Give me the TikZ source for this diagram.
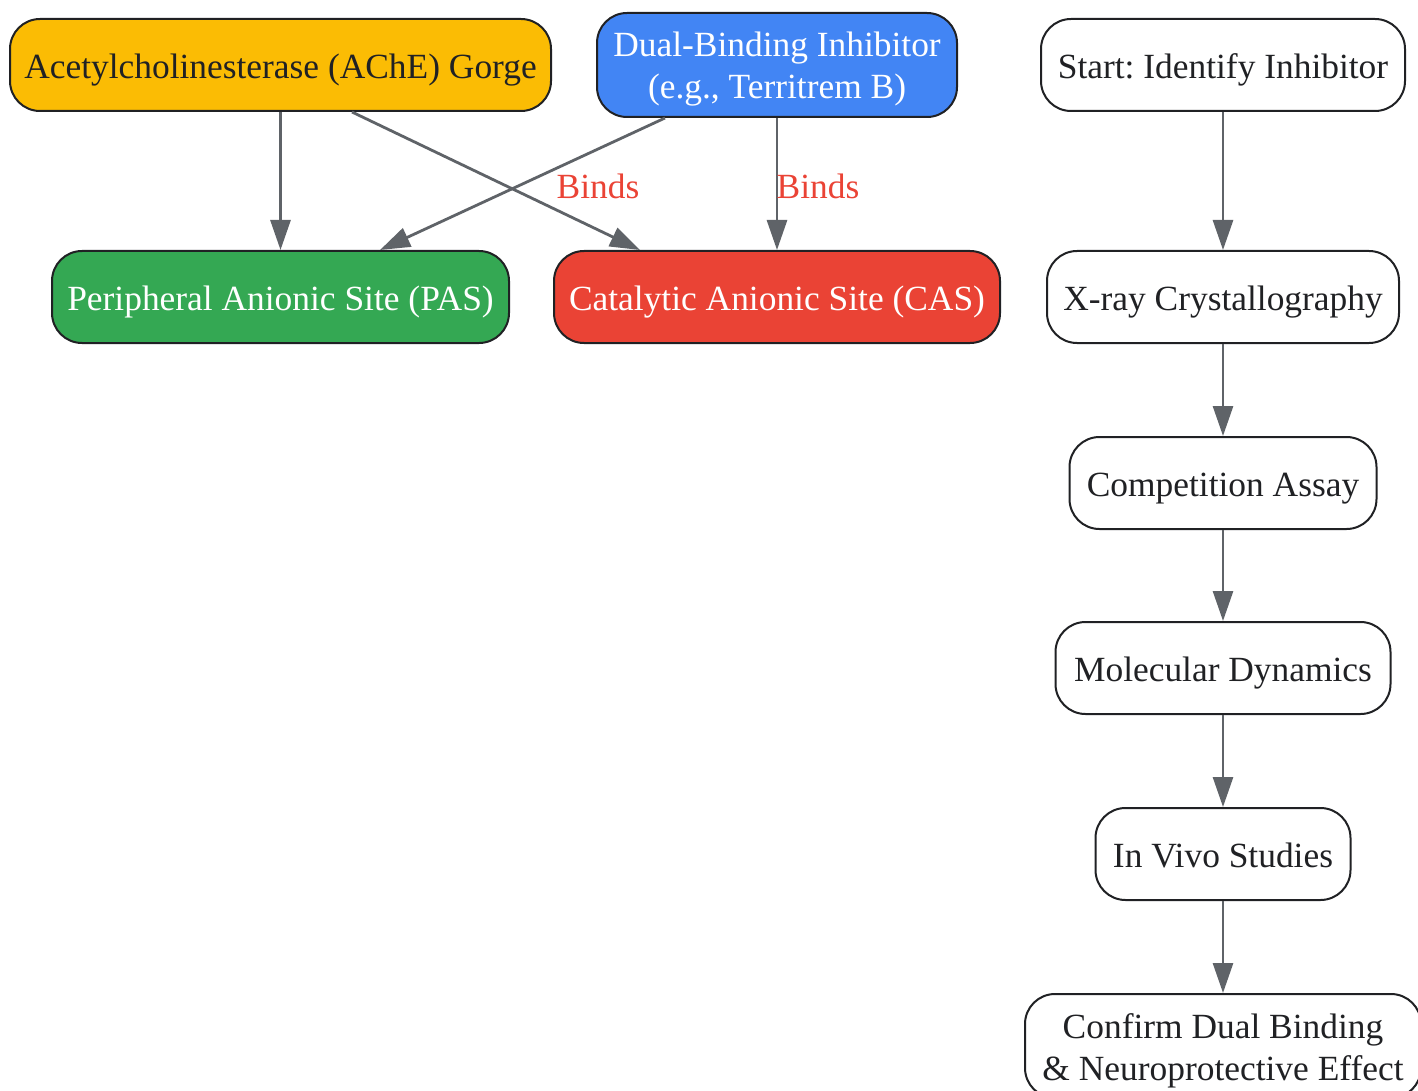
\documentclass[tikz,border=0pt]{standalone}
\usepackage{fontspec}
\setmainfont{Liberation Serif}
\usetikzlibrary{calc,arrows.meta}
\definecolor{gorgeyellow}{HTML}{FBBC04}
\definecolor{inhibblue}{HTML}{4285F4}
\definecolor{pasgreen}{HTML}{34A853}
\definecolor{casred}{HTML}{EA4335}
\definecolor{inkdark}{HTML}{202124}
\definecolor{edgegray}{HTML}{5F6368}
\frenchspacing
\tikzset{
  box/.style={draw=inkdark, line width=1pt, rounded corners=15pt, align=center,
    text=inkdark, inner sep=0pt, text height=13.5pt, text depth=0pt,
    font=\fontsize{17.7}{21}\selectfont},
  twoline/.style={text height=34pt, text depth=0pt},
  whitebox/.style={box, text=white},
  flow/.style={-{Triangle[length=15pt,width=10pt]}, draw=edgegray, line width=1.4pt},
  lbl/.style={text=casred, font=\fontsize{17.7}{21}\selectfont}
}
\begin{document}
\begin{tikzpicture}[x=0.5pt,y=-0.5pt]
			%%%%% START %%%%%
			\useasboundingbox (0,0) rectangle (1418,1091);
			
			% gorge and its two sites
			\node[box, fill=gorgeyellow, minimum width=270.5pt, minimum height=46pt] (ache) at (280.5,65) {Acetylcholinesterase (AChE) Gorge};
			\node[whitebox, twoline, fill=inhibblue, minimum width=180pt, minimum height=52pt] (dual) at (777,65) {Dual-Binding Inhibitor\\(e.g., Territrem B)};
			\node[whitebox, fill=pasgreen, minimum width=228.5pt, minimum height=46pt] (pas) at (280.5,297) {Peripheral Anionic Site (PAS)};
			\node[whitebox, fill=casred, minimum width=223pt, minimum height=46pt] (cas) at (777,297) {Catalytic Anionic Site (CAS)};
			
			\draw[flow] (ache.south) -- (pas.north);
			\draw[flow] ($(ache.south)+(71.5,0)$) -- ($(cas.north)+(-137,0)$);
			\draw[flow] ($(dual.south)+(-112,0)$) -- ($(pas.north)+(99.5,0)$);
			\draw[flow] (dual.south) -- (cas.north);
			\node[lbl] (bindpas) at (598,186) {Binds};
			\node[lbl] (bindcas) at (818,186) {Binds};
			
			% workflow column
			\node[box, fill=white, minimum width=182pt, minimum height=46pt] (start) at (1223,65) {Start: Identify Inhibitor};
			\node[box, fill=white, minimum width=176pt, minimum height=46pt] (xray) at (1223,297) {X-ray Crystallography};
			\node[box, fill=white, minimum width=153.5pt, minimum height=46pt] (assay) at (1223,483) {Competition Assay};
			\node[box, fill=white, minimum width=167.5pt, minimum height=46pt] (md) at (1223,668) {Molecular Dynamics};
			\node[box, fill=white, minimum width=127.5pt, minimum height=46pt] (vivo) at (1223,854) {In Vivo Studies};
			\node[box, twoline, fill=white, minimum width=198pt, minimum height=52pt] (confirm) at (1223,1046) {Confirm Dual Binding\\\& Neuroprotective Effect};
			
			\draw[flow] (start) -- (xray);
			\draw[flow] (xray) -- (assay);
			\draw[flow] (assay) -- (md);
			\draw[flow] (md) -- (vivo);
			\draw[flow] (vivo) -- (confirm);
			%%%%% END %%%%%
\end{tikzpicture}
\end{document}
